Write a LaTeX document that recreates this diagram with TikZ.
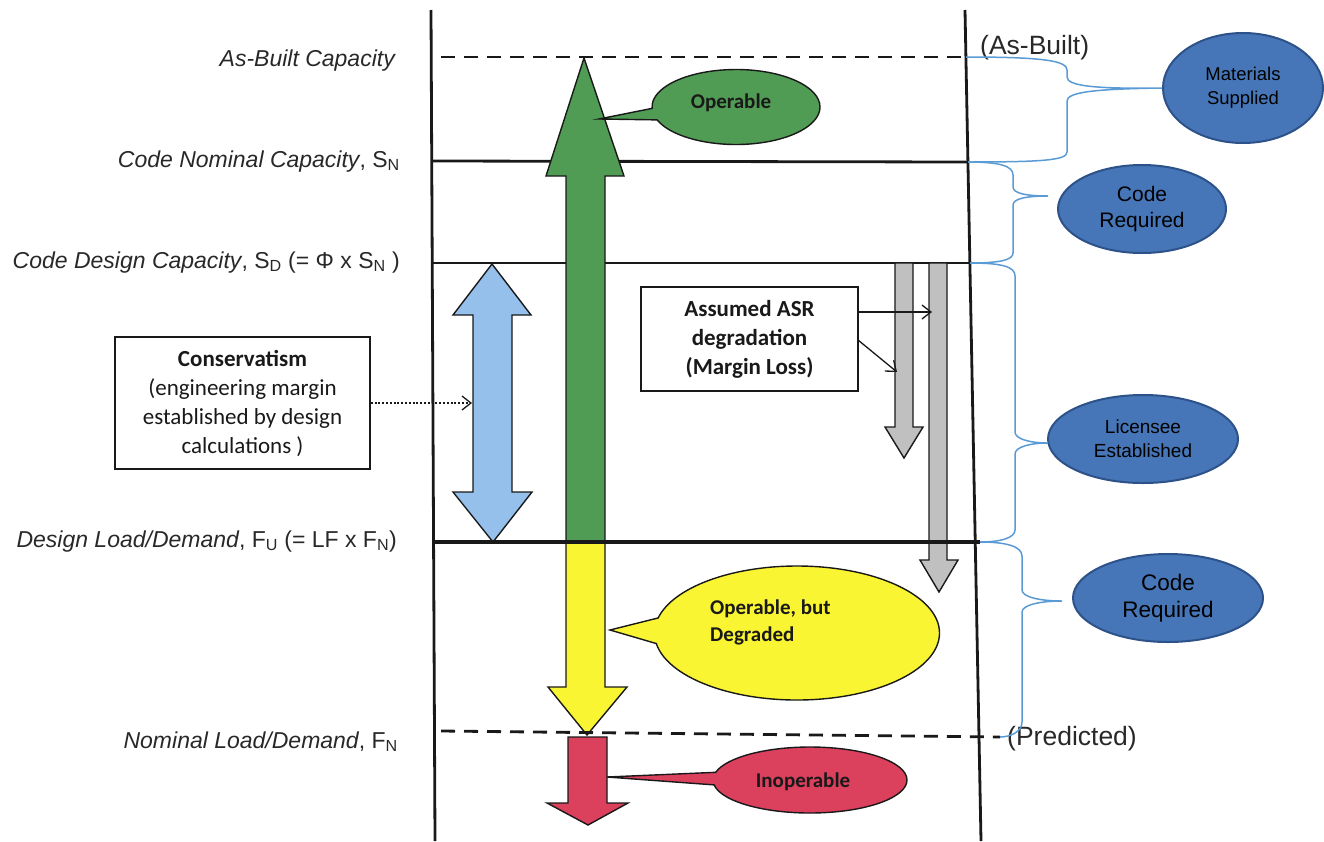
\documentclass[tikz,border=0pt]{standalone}
\usepackage{fontspec}
\setmainfont{Liberation Sans}
\newfontfamily\calib{Carlito}
\usetikzlibrary{shapes.geometric,shapes.callouts,arrows.meta}
\definecolor{ink}{RGB}{25,25,25}
\definecolor{labgray}{RGB}{40,40,40}
\definecolor{cgreen}{RGB}{80,156,84}
\definecolor{cyellow}{RGB}{250,245,50}
\definecolor{cred}{RGB}{219,64,93}
\definecolor{cblue}{RGB}{150,192,236}
\definecolor{cgray}{RGB}{192,192,192}
\definecolor{bellfill}{RGB}{70,118,183}
\definecolor{bellline}{RGB}{45,82,138}
\definecolor{bracecol}{RGB}{91,155,213}
\begin{document}
\begin{tikzpicture}[x=1pt,y=-1pt,
  ln/.style={draw=ink,line width=2.8pt},
  dashln/.style={draw=ink,line width=2.8pt,dash pattern=on 14pt off 9pt},
  lab/.style={font=\fontsize{23}{27}\selectfont,text=labgray,inner sep=0pt,anchor=base east},
  fat/.style={draw=ink,line width=1.4pt,line join=miter},
  ctext/.style={font=\calib\bfseries\fontsize{21}{27}\selectfont,text=ink,align=left,inner sep=0pt},
  tbox/.style={draw=ink,line width=1.4pt,align=center,inner sep=0pt,font=\calib\fontsize{23}{29}\selectfont,text=ink},
  cbub/.style={ellipse callout,draw=ink,line width=1.4pt,inner sep=0pt},
  bell/.style={ellipse,draw=bellline,fill=bellfill,line width=2pt,align=center,inner sep=0pt,text=black},
  brace/.style={draw=bracecol,line width=1.5pt},
  ptr/.style={draw=ink,line width=1.3pt,-{Straight Barb[length=9pt,width=14pt,line width=1.3pt]}},
  side/.style={font=\fontsize{26.5}{30}\selectfont,text=labgray,inner sep=0pt,anchor=base west}]
\useasboundingbox (0,0) rectangle (1324,841);
% named coordinates
\coordinate (lt) at (431,10);  \coordinate (lb) at (435,841);
\coordinate (rt) at (965,10);  \coordinate (rb) at (981,841);
\coordinate (abL) at (441,57); \coordinate (abR) at (966,57);
\coordinate (cnL) at (432,161); \coordinate (cnR) at (968,162);
\coordinate (cdL) at (432,263); \coordinate (cdR) at (970,263);
\coordinate (dlL) at (432,542); \coordinate (dlR) at (980,542);
\coordinate (nlL) at (441,731); \coordinate (nlR) at (1000,737);
% frame lines
\draw[ln] (lt) -- (lb);
\draw[ln] (rt) -- (rb);
\draw[dashln] (abL) -- (abR);
\draw[ln] (cnL) -- (cnR);
\draw[ln] (cdL) -- (cdR);
% big arrows
\draw[fat,fill=cgreen] (566,542) -- (566,176) -- (546,176) -- (584,58) -- (624,176) -- (605,176) -- (605,542) -- cycle;
\draw[fat,fill=cyellow] (566,542) -- (605,542) -- (605,687) -- (627,687) -- (587,735) -- (548,687) -- (566,687) -- cycle;
\draw[fat,fill=cred] (568,737) -- (607,737) -- (607,803) -- (628,803) -- (588,825) -- (547,803) -- (568,803) -- cycle;
\draw[fat,fill=cblue] (492,264) -- (531,315) -- (512,315) -- (512,492) -- (532,492) -- (493,542) -- (453,492) -- (473,492) -- (473,315) -- (453,315) -- cycle;
\draw[fat,fill=cgray] (895,263) -- (913,263) -- (913,427) -- (923,427) -- (904,458) -- (885,427) -- (895,427) -- cycle;
\draw[fat,fill=cgray] (929,263) -- (947,263) -- (947,560) -- (958,560) -- (939,592) -- (920,560) -- (929,560) -- cycle;
% lines over arrows
\draw[draw=ink,line width=4pt] (dlL) -- (dlR);
\draw[dashln] (nlL) -- (nlR);
% callouts
\node[cbub,fill=cgreen,minimum width=168pt,minimum height=75pt,callout absolute pointer={(599,119)},callout pointer arc=18] (opc) at (736,107) {};
\node[ctext,anchor=base] (opt) at (731,108) {Operable};
\node[cbub,fill=cyellow,minimum width=285pt,minimum height=134pt,callout absolute pointer={(610,630)},callout pointer arc=22] (dgc) at (797,633) {};
\node[ctext,anchor=north west] (dgt) at (710,600) {Operable, but\\Degraded};
\node[cbub,fill=cred,minimum width=194pt,minimum height=66pt,callout absolute pointer={(607,777)},callout pointer arc=22] (ioc) at (810,780) {};
\node[ctext,anchor=base] (iot) at (803,787) {Inoperable};
% text boxes
\node[tbox,minimum width=217pt,minimum height=104pt,font=\calib\bfseries\fontsize{23}{29}\selectfont] (asr) at (749.5,339) {Assumed ASR\\degradation\\(Margin Loss)};
\node[tbox,minimum width=255pt,minimum height=132pt] (cons) at (242.5,403) {{\bfseries Conservatism}\\(engineering margin\\established by design\\calculations )};
\coordinate (g2a) at (932,312);
\coordinate (g1a) at (897,372);
\coordinate (bla) at (472,403);
\draw[ptr] (asr.east |- g2a) -- (g2a);
\draw[ptr] (858,340) -- (g1a);
\draw[ptr,line width=1.8pt,dash pattern=on 2pt off 1.8pt] (cons.east |- bla) -- (bla);
% left labels
\node[lab] (l1) at (395,66) {\itshape As-Built Capacity};
\node[lab] (l2) at (400,167) {{\itshape Code Nominal Capacity}, S\textsubscript{N}};
\node[lab] (l3) at (400,268) {{\itshape Code Design Capacity}, S\textsubscript{D} (= Φ x S\textsubscript{N} )};
\node[lab] (l4) at (397,547) {{\itshape Design Load/Demand}, F\textsubscript{U} (= LF x F\textsubscript{N})};
\node[lab] (l5) at (398,748) {{\itshape Nominal Load/Demand}, F\textsubscript{N}};
% side labels
\node[side] (asb) at (980,54) {(As-Built)};
\node[side] (pred) at (1007,745) {(Predicted)};
% blue ellipses
\node[bell,minimum width=160pt,minimum height=110pt,font=\fontsize{18.5}{24}\selectfont] (ms) at (1243,88) {Materials\\Supplied};
\node[bell,minimum width=168pt,minimum height=88pt,font=\fontsize{21}{26}\selectfont] (cr1) at (1142,209) {Code\\Required};
\node[bell,minimum width=190pt,minimum height=88pt,font=\fontsize{19}{24}\selectfont] (lic) at (1143,439) {Licensee\\Established};
\node[bell,minimum width=190pt,minimum height=88pt,font=\fontsize{22.5}{27}\selectfont] (cr2) at (1168,598) {Code\\Required};
% braces
\coordinate (t2) at (1048,196);
\coordinate (t3) at (1048,443);
\coordinate (t4) at (1062,601);
\draw[brace] (abR) .. controls (1045,57) and (1067,61) .. (1067,70) -- (1067,77)
  .. controls (1067,86) and (1095,89) .. (ms.west)
  .. controls (1095,89) and (1067,92) .. (1067,101) -- (1067,152)
  .. controls (1067,160) and (1045,162) .. (cnR);
\draw[brace] (cnR) .. controls (1000,162) and (1013,166) .. (1013,175) -- (1013,187)
  .. controls (1013,193) and (1025,196) .. (t2)
  .. controls (1025,196) and (1013,199) .. (1013,205) -- (1013,253)
  .. controls (1013,260) and (1000,263) .. (cdR);
\draw[brace] (cdR) .. controls (1003,263) and (1015,267) .. (1015,276) -- (1015,432)
  .. controls (1015,439) and (1030,443) .. (t3)
  .. controls (1030,443) and (1015,447) .. (1015,454) -- (1015,530)
  .. controls (1015,538) and (1000,542) .. (dlR);
\draw[brace] (dlR) .. controls (1005,542) and (1022,546) .. (1022,556) -- (1022,590)
  .. controls (1022,597) and (1040,601) .. (t4)
  .. controls (1040,601) and (1022,605) .. (1022,612) -- (1022,722)
  .. controls (1022,732) and (1010,737) .. (nlR);
\end{tikzpicture}
\end{document}
